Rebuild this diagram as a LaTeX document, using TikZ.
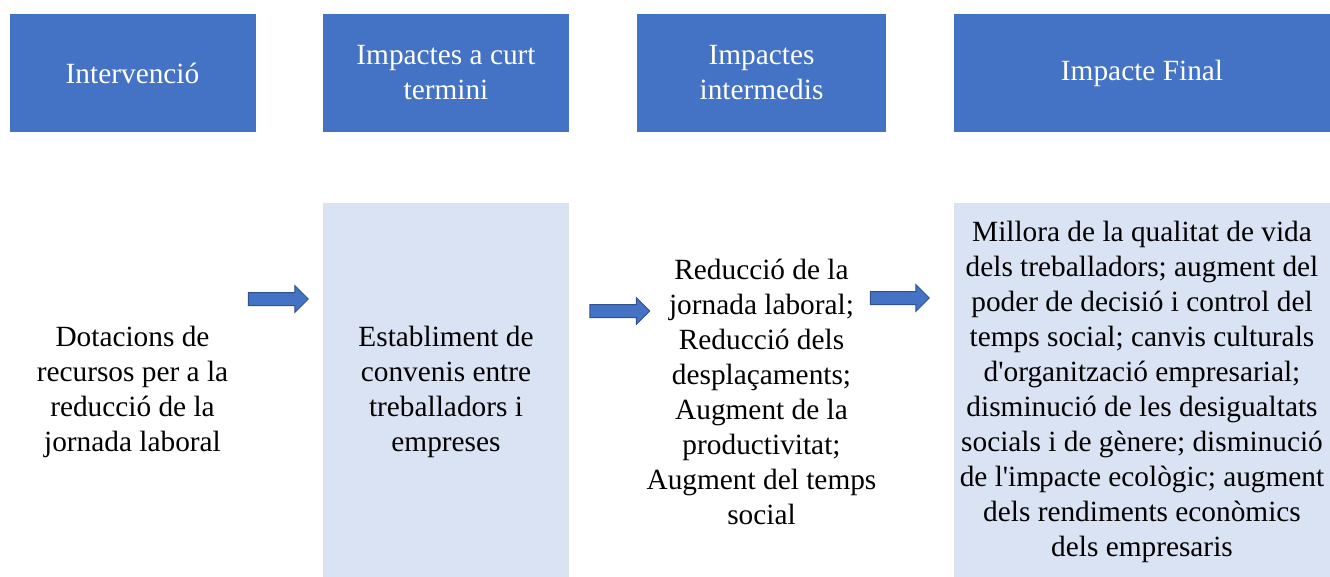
\documentclass[tikz,border=0pt]{standalone}
\usepackage{fontspec}
\setmainfont{Liberation Serif}
\usepackage{xcolor}
\usetikzlibrary{shapes.arrows,positioning}

\definecolor{hdrblue}{HTML}{4472C4}
\definecolor{lightblue}{HTML}{DAE3F3}
\definecolor{arrowline}{HTML}{2F528F}

\begin{document}
\begin{tikzpicture}[x=0.75pt, y=-0.75pt,
    hdr/.style={fill=hdrblue, text=white, minimum width=184.5pt, minimum height=88.5pt, align=center, inner sep=0pt},
    body/.style={minimum width=184.5pt, minimum height=283.5pt, align=center, inner sep=0pt},
    bluearrow/.style={single arrow, fill=hdrblue, draw=arrowline, line width=0.75pt, inner xsep=0pt, inner ysep=4.5pt,
        single arrow head extend=5.25pt, minimum height=45pt}]
    \useasboundingbox (0,0) rectangle (1330,576);
    \fontsize{22}{26.25}\selectfont

    % headers
    \node[hdr] (hinterv) at (132.5,73) {Intervenció};
    \node[hdr] (hcurt) at (446,73) {Impactes a curt\\termini};
    \node[hdr, minimum width=186.75pt] (hmitja) at (761.5,73) {Impactes\\intermedis};
    \node[hdr, minimum width=282pt] (hfinal) at (1142,73) {Impacte Final};

    % contents
    \node[body] (binterv) at (132.5,392) {Dotacions de\\recursos per a la\\reducció de la\\jornada laboral};
    \node[body, fill=lightblue] (bcurt) at (446,392) {Establiment de\\convenis entre\\treballadors i\\empreses};
    \node[body, minimum width=186.75pt] (bmitja) at (761.5,392) {Reducció de la\\jornada laboral;\\Reducció dels\\desplaçaments;\\Augment de la\\productivitat;\\Augment del temps\\social};
    \node[body, fill=lightblue, minimum width=282pt] (bfinal) at (1142,392) {Millora de la qualitat de vida\\dels treballadors; augment del\\poder de decisió i control del\\temps social; canvis culturals\\d\textquotesingle organització empresarial;\\disminució de les desigualtats\\socials i de gènere; disminució\\de l\textquotesingle impacte ecològic; augment\\dels rendiments econòmics\\dels empresaris};

    % arrows
    \node[bluearrow] (a1) at (275,299) {};
    \node[bluearrow] (a2) at (616.5,311) {};
    \node[bluearrow, minimum height=44.25pt] (a3) at (896.5,298) {};
\end{tikzpicture}
\end{document}
